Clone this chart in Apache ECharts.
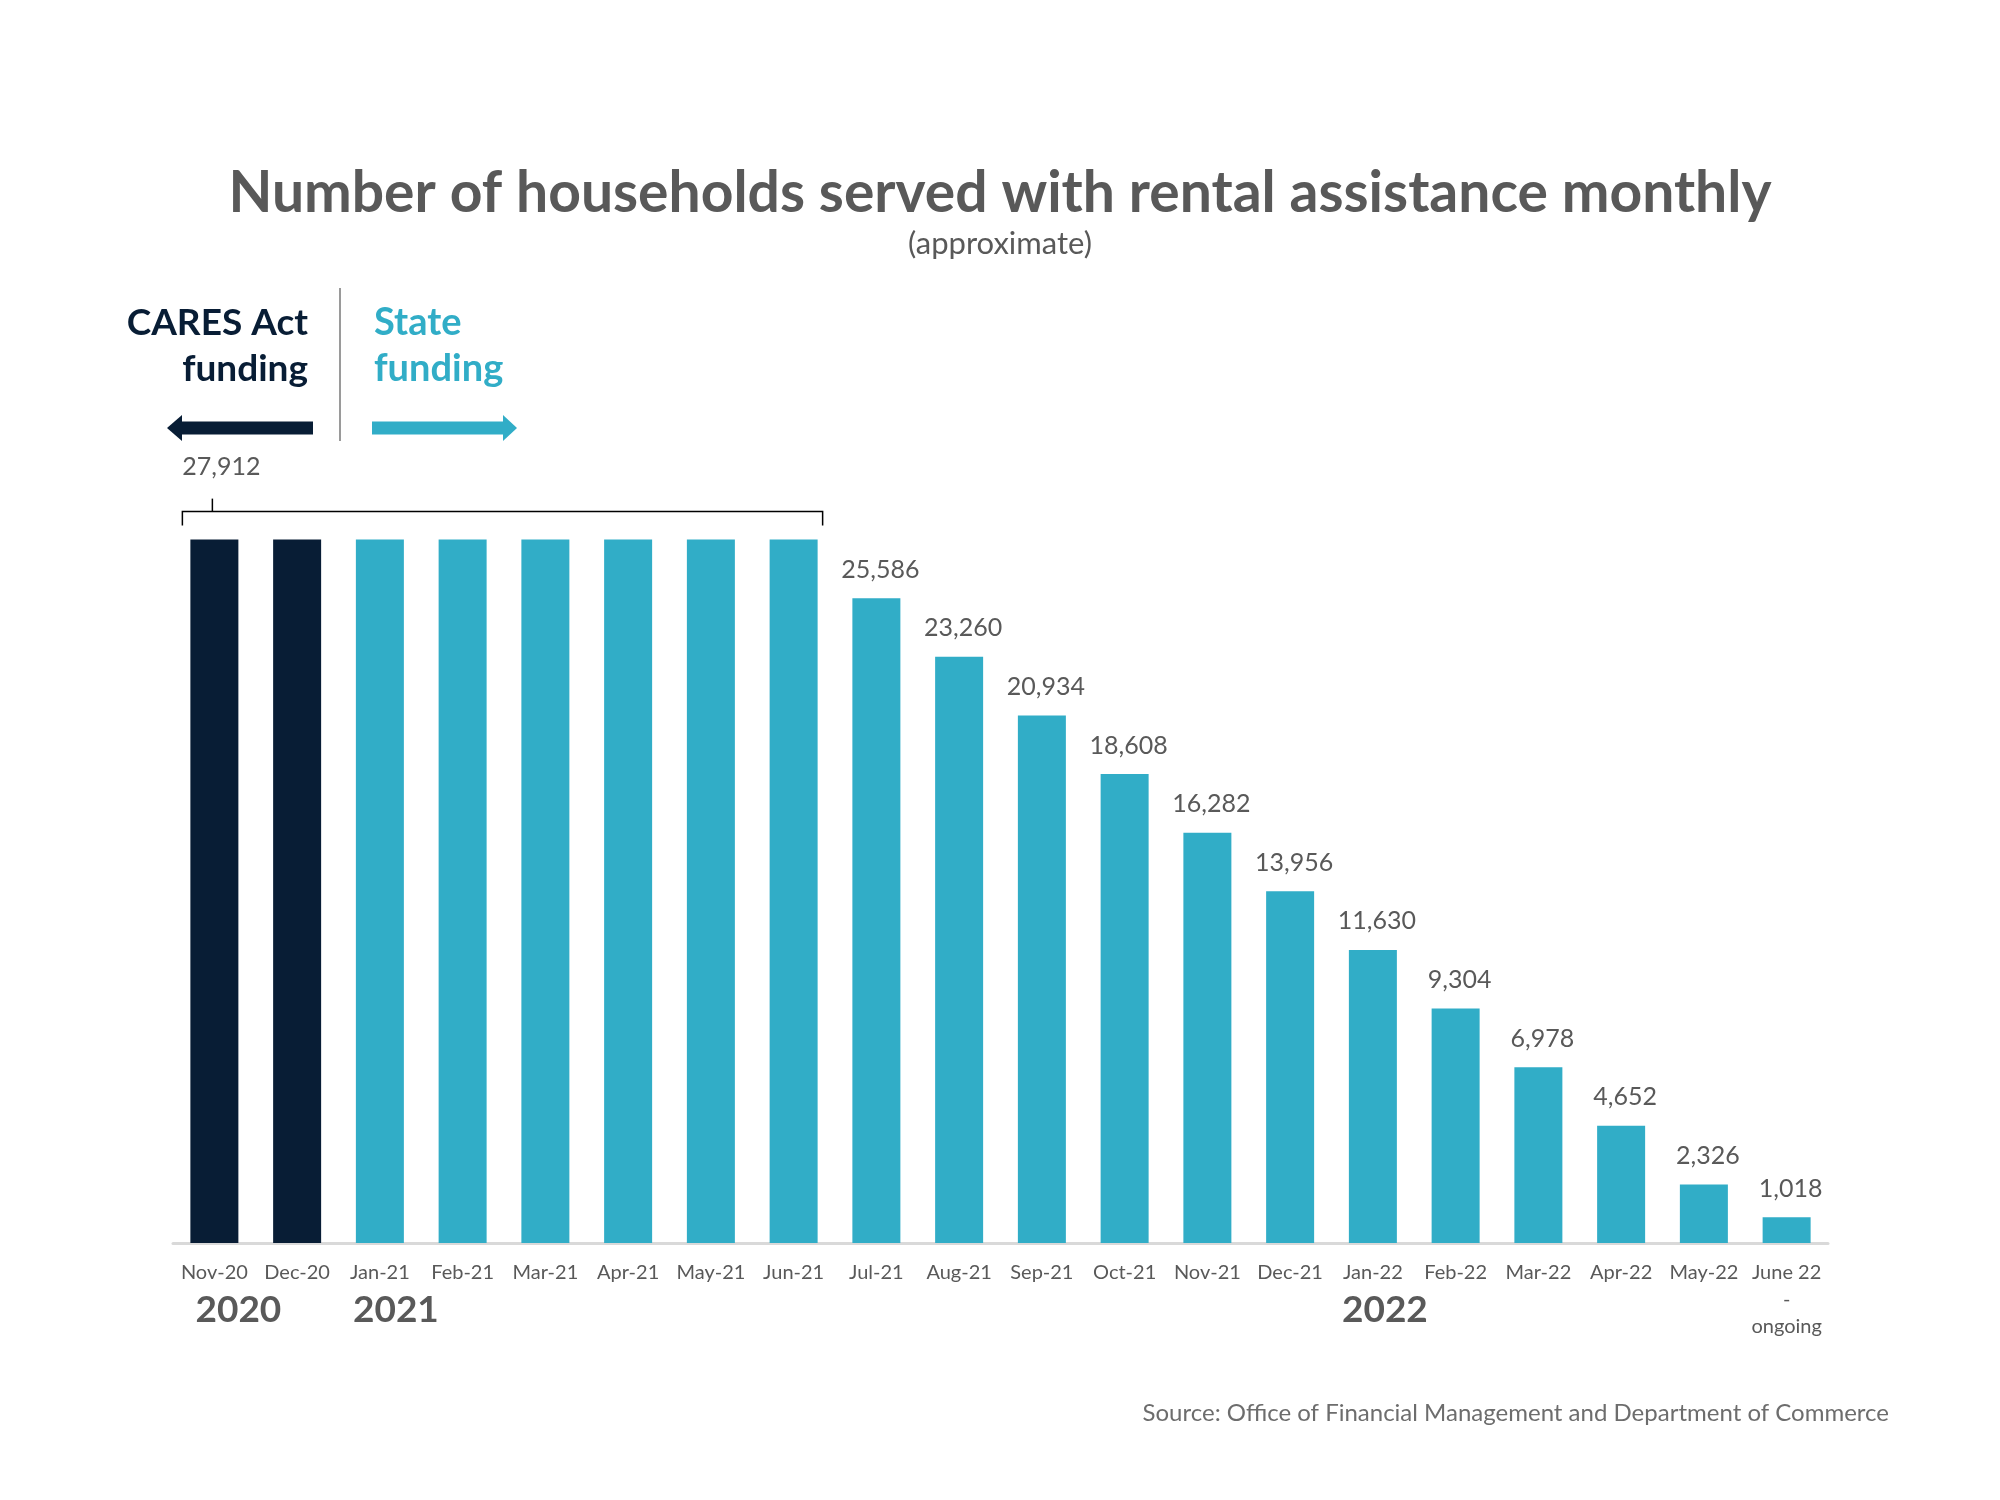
<!DOCTYPE html>
<html>
<head>
<meta charset="utf-8">
<script src="https://cdn.jsdelivr.net/npm/echarts@6/dist/echarts.min.js"></script>
<style>
html,body{margin:0;padding:0;background:#fff;}
#chart{width:2000px;height:1500px;}
</style>
</head>
<body>
<div id="chart"></div>
<script>
// ---- data ----
const categories = ['Nov-20','Dec-20','Jan-21','Feb-21','Mar-21','Apr-21','May-21','Jun-21','Jul-21','Aug-21','Sep-21','Oct-21','Nov-21','Dec-21','Jan-22','Feb-22','Mar-22','Apr-22','May-22','June 22\n-\nongoing'];
const households = [27912,27912,27912,27912,27912,27912,27912,27912,25586,23260,20934,18608,16282,13956,11630,9304,6978,4652,2326,1018];
const fundingSource = ['CARES','CARES','State','State','State','State','State','State','State','State','State','State','State','State','State','State','State','State','State','State'];
const yearLabels = ['2020','2021','2022'];
const yearStartIndex = [0,2,14];
const bracketStart = 0, bracketEnd = 7;   // bars sharing the 27,912 label
const bracketValue = 27912;

const colorMap = {CARES:'#081d35', State:'#31adc7'};
const gray = '#595959';
const FONT = 'Lato';

const chart = echarts.init(document.getElementById('chart'), null, {renderer:'canvas'});

const seriesData = households.map((v,i)=>({
  value: v,
  itemStyle: {color: colorMap[fundingSource[i]]},
  label: {show: i > bracketEnd}
}));

chart.setOption({
  animation: false,
  backgroundColor: '#ffffff',
  title: {
    text: 'Number of households served with rental assistance monthly',
    subtext: '(approximate)',
    left: 'center',
    top: 160,
    itemGap: 6,
    textStyle: {fontFamily: FONT, fontWeight: 'bold', fontSize: 57, color: gray},
    subtextStyle: {fontFamily: FONT, fontSize: 31, color: gray}
  },
  grid: {left: 173, right: 172, top: 487, bottom: 257},
  xAxis: {
    type: 'category',
    data: categories,
    axisLine: {lineStyle: {color: '#d9d9d9', width: 3}},
    axisTick: {show: false},
    axisLabel: {interval: 0, margin: 16, fontFamily: FONT, fontSize: 20, lineHeight: 27, color: gray}
  },
  yAxis: {type: 'value', min: 0, max: 30000, show: false, splitLine: {show: false}},
  series: [{
    type: 'bar',
    data: seriesData,
    barWidth: 48,
    label: {
      position: 'top',
      distance: 16,
      offset: [4, 0],
      fontFamily: FONT,
      fontSize: 25,
      color: gray,
      formatter: p => p.value.toLocaleString('en-US')
    }
  }]
});

// ---- annotations positioned from the chart's own scales ----
function px(catIdx, val){ return chart.convertToPixel({xAxisIndex:0, yAxisIndex:0}, [catIdx, val]); }
const halfBar = 24;
const p0 = px(bracketStart, bracketValue);
const p7 = px(bracketEnd, bracketValue);
const by = p0[1] - 28;
const bx0 = p0[0] - halfBar - 8;
const bx1 = p7[0] + halfBar + 5;
const base = px(0, 0)[1];

const graphics = [
  // bracket
  {type:'polyline', shape:{points:[[bx0, by+14],[bx0, by],[bx1, by],[bx1, by+14]]}, style:{stroke:'#000', lineWidth:1.5, fill:null}},
  {type:'line', shape:{x1:p0[0]-2, y1:by-13, x2:p0[0]-2, y2:by}, style:{stroke:'#000', lineWidth:1.5}},
  {type:'text', x:p0[0]+7, y:by-45, style:{text: bracketValue.toLocaleString('en-US'), fontFamily:FONT, fontSize:25, fill:gray, align:'center', verticalAlign:'middle'}},
  // funding legend
  {type:'text', x:308, y:300, style:{text:'CARES Act\nfunding', fontFamily:FONT, fontWeight:'bold', fontSize:37, lineHeight:46, fill:colorMap.CARES, align:'right', verticalAlign:'top'}},
  {type:'text', x:374, y:300, style:{text:'State\nfunding', fontFamily:FONT, fontWeight:'bold', fontSize:38, lineHeight:46, fill:colorMap.State, align:'left', verticalAlign:'top'}},
  {type:'line', shape:{x1:340, y1:288, x2:340, y2:441}, style:{stroke:'#9a9a9a', lineWidth:2}},
  {type:'rect', shape:{x:180, y:421.5, width:133, height:13}, style:{fill:colorMap.CARES}},
  {type:'polygon', shape:{points:[[167,428],[182,415],[182,441]]}, style:{fill:colorMap.CARES}},
  {type:'rect', shape:{x:372, y:421.5, width:132, height:13}, style:{fill:colorMap.State}},
  {type:'polygon', shape:{points:[[517,428],[503,415],[503,441]]}, style:{fill:colorMap.State}},
  // source
  {type:'text', x:1889, y:1413, style:{text:'Source: Office of Financial Management and Department of Commerce', fontFamily:FONT, fontSize:24, fill:'#6d6d6d', align:'right', verticalAlign:'middle'}}
];
const yearOffsets = [24, 16, 12];
yearLabels.forEach((y,k)=>{
  const c = px(yearStartIndex[k], 0);
  graphics.push({type:'text', x:c[0]+yearOffsets[k], y:base+67, style:{text:y, fontFamily:FONT, fontWeight:'bold', fontSize:37, fill:gray, align:'center', verticalAlign:'middle'}});
});
chart.setOption({graphic: graphics});
</script>
</body>
</html>
